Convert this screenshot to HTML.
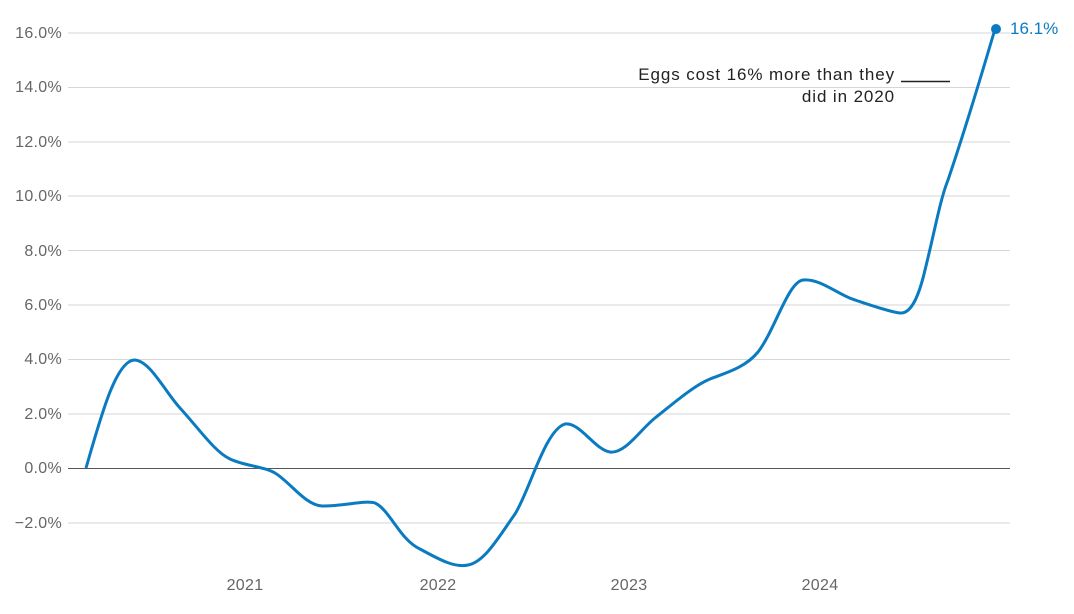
<!DOCTYPE html>
<html><head><style>
html,body{margin:0;padding:0;background:#fff;}
svg{display:block;font-family:"Liberation Sans",sans-serif;}
</style></head><body>
<svg width="1074" height="614" viewBox="0 0 1074 614">
<g stroke="#d6d6d6" stroke-width="1">
<line x1="68" x2="1010" y1="33" y2="33"/>
<line x1="68" x2="1010" y1="87.5" y2="87.5"/>
<line x1="68" x2="1010" y1="142" y2="142"/>
<line x1="68" x2="1010" y1="196" y2="196"/>
<line x1="68" x2="1010" y1="250.5" y2="250.5"/>
<line x1="68" x2="1010" y1="305" y2="305"/>
<line x1="68" x2="1010" y1="359.5" y2="359.5"/>
<line x1="68" x2="1010" y1="414" y2="414"/>
<line x1="68" x2="1010" y1="523" y2="523"/>
</g>
<line x1="68" x2="1010" y1="468.5" y2="468.5" stroke="#555" stroke-width="1"/>
<g fill="#666" font-size="16" letter-spacing="0.3" text-anchor="end">
<text x="62" y="38">16.0%</text>
<text x="62" y="92">14.0%</text>
<text x="62" y="147">12.0%</text>
<text x="62" y="201">10.0%</text>
<text x="62" y="256">8.0%</text>
<text x="62" y="310">6.0%</text>
<text x="62" y="364">4.0%</text>
<text x="62" y="419">2.0%</text>
<text x="62" y="473">0.0%</text>
<text x="62" y="528">−2.0%</text>
</g>
<g fill="#666" font-size="16" letter-spacing="0.3" text-anchor="middle">
<text x="245" y="590">2021</text>
<text x="438" y="590">2022</text>
<text x="629" y="590">2023</text>
<text x="820" y="590">2024</text>
</g>
<path d="M86,468 C100,420 115,362 134,360 C150,360 165,392 180,408 C200,430 215,452 230,459 C245,466 262,466 275,473 C290,482 305,505 322,506 C345,506 365,500 375,503 C390,510 400,540 420,549 C440,560 455,568 468,565 C485,562 500,535 515,514 C530,490 545,430 565,424 C580,422 595,450 610,452 C625,454 640,430 655,418 C675,402 695,385 710,379 C725,373 745,368 758,352 C775,330 788,282 803,280 C820,278 840,296 855,300 C870,305 890,312 900,313 C910,314 918,300 925,270 C935,230 940,200 948,180 C965,130 980,80 995,29" fill="none" stroke="#0a7bc1" stroke-width="3" stroke-linejoin="round"/>
<circle cx="996" cy="29" r="5" fill="#0a7bc1"/>
<text x="1010" y="34" fill="#0a7bc1" font-size="17">16.1%</text>
<g fill="#222" font-size="17" letter-spacing="0.9" text-anchor="end">
<text x="895" y="80">Eggs cost 16% more than they</text>
<text x="895" y="102">did in 2020</text>
</g>
<line x1="901" x2="950" y1="81.5" y2="81.5" stroke="#222" stroke-width="1.5"/>
</svg>
</body></html>
